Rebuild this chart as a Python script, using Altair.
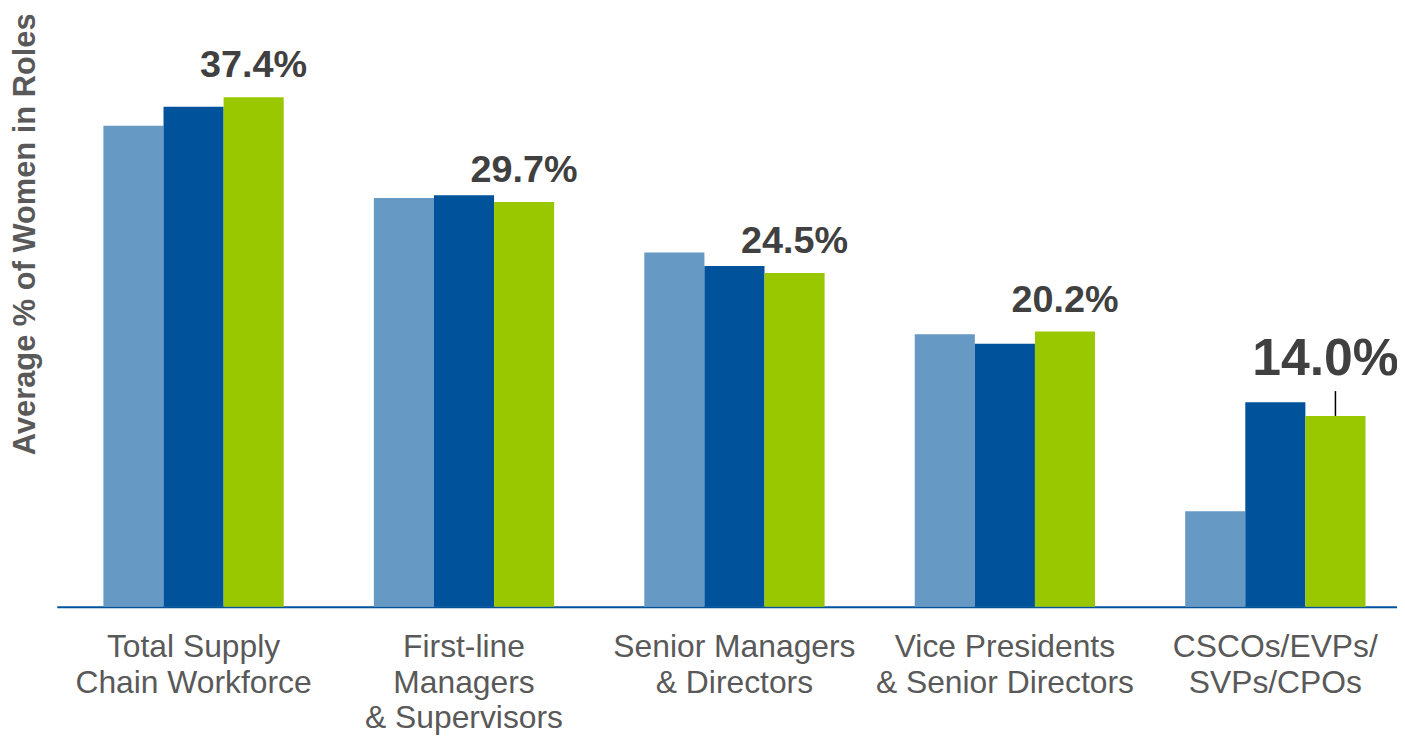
import altair as alt
import pandas as pd

categories = [
    "Total Supply|Chain Workforce",
    "First-line|Managers|& Supervisors",
    "Senior Managers|& Directors",
    "Vice Presidents|& Senior Directors",
    "CSCOs/EVPs/|SVPs/CPOs",
]
series = ["Series 1", "Series 2", "Series 3"]
values_s1 = [35.3, 30.0, 26.0, 20.0, 7.0]
values_s2 = [36.7, 30.2, 25.0, 19.3, 15.0]
values_s3 = [37.4, 29.7, 24.5, 20.2, 14.0]
colors = ["#6699C4", "#00529B", "#99C800"]

rows = []
for s, vals in zip(series, [values_s1, values_s2, values_s3]):
    for c, v in zip(categories, vals):
        rows.append({"category": c, "series": s, "value": v})
df = pd.DataFrame(rows)

x_enc = alt.X(
    "category:N",
    sort=categories,
    scale=alt.Scale(paddingInner=1 / 3, paddingOuter=0.1446, align=0.597, round=False),
    axis=alt.Axis(
        title=None,
        labelAngle=0,
        labelExpr="split(datum.label, '|')",
        labelFont="Liberation Sans",
        labelFontSize=32,
        labelColor="#595959",
        labelLineHeight=36,
        labelPadding=25,
        labelBaseline="top",
        labelLimit=0,
        ticks=False,
        tickSize=0,
        domainColor="#00529B",
        domainWidth=2,
        grid=False,
    ),
)
xoff_enc = alt.XOffset("series:N", sort=series, scale=alt.Scale(paddingInner=0, paddingOuter=0, round=False))
y_enc = alt.Y(
    "value:Q",
    scale=alt.Scale(domain=[0, 40], nice=False, zero=True),
    axis=alt.Axis(
        title="Average % of Women in Roles",
        titleFont="Liberation Sans",
        titleFontSize=31,
        titleFontWeight="bold",
        titleColor="#595959",
        titleAngle=-90,
        titleAlign="center",
        titleBaseline="middle",
        titleX=-31,
        titleY=173,
        labels=False,
        ticks=False,
        domain=False,
        grid=False,
    ),
)

base = alt.Chart(df)

bars = base.mark_bar().encode(
    x=x_enc,
    xOffset=xoff_enc,
    y=y_enc,
    color=alt.Color("series:N", sort=series, scale=alt.Scale(domain=series, range=colors), legend=None),
)

labels = (
    base.transform_filter(alt.datum.series == series[2])
    .transform_filter(alt.datum.category != categories[-1])
    .transform_calculate(txt="format(datum.value, '.1f') + '%'")
    .mark_text(
        baseline="alphabetic",
        align="center",
        dy=-20,
        font="Liberation Sans",
        fontSize=38,
        fontWeight="bold",
        color="#404040",
    )
    .encode(x=x_enc, xOffset=xoff_enc, y=y_enc, text="txt:N")
)

big_label = (
    base.transform_filter(alt.datum.series == series[2])
    .transform_filter(alt.datum.category == categories[-1])
    .transform_calculate(txt="format(datum.value, '.1f') + '%'")
    .mark_text(
        baseline="alphabetic",
        align="center",
        dy=-41,
        dx=-10,
        font="Liberation Sans",
        fontSize=52,
        fontWeight="bold",
        color="#404040",
    )
    .encode(x=x_enc, xOffset=xoff_enc, y=y_enc, text="txt:N")
)

leader = (
    base.transform_filter(alt.datum.series == series[2])
    .transform_filter(alt.datum.category == categories[-1])
    .mark_rule(color="#000000", strokeWidth=1.5, y2Offset=-25)
    .encode(x=x_enc, xOffset=xoff_enc, y=y_enc, y2=alt.Y2("value:Q"))
)

chart = (
    alt.layer(bars, labels, big_label, leader)
    .properties(
        width=1348,
        height=548,
        padding={"left": 49, "top": 52, "right": 0, "bottom": 128},
        autosize=alt.AutoSizeParams(type="none"),
    )
    .configure_view(stroke=None)
    .configure_bar(binSpacing=0)
)

chart.save("out.html", embed_options={"renderer": "svg", "actions": False})
